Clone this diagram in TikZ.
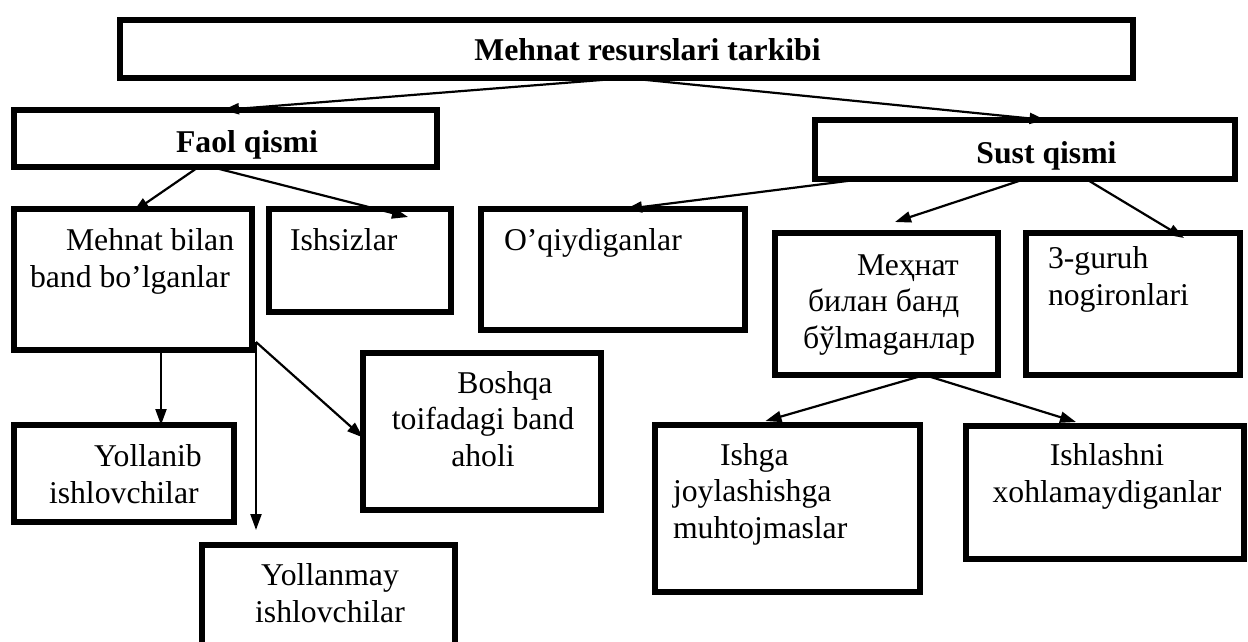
\documentclass[tikz,border=0pt]{standalone}
\usepackage{fontspec}
\setmainfont{Liberation Serif}
\usetikzlibrary{arrows.meta,calc}
\begin{document}
\begin{tikzpicture}[x=1pt,y=-1pt,
  box/.style={draw=black,line width=5.5pt,inner sep=0pt,outer sep=0pt,line join=miter,fill=none},
  txt/.style={inner sep=0pt,outer sep=0pt,font=\fontsize{31.7}{36.5}\selectfont},
  arr/.style={draw=black,line width=2.2pt,-{Triangle[length=16pt,width=11pt]}}]
\useasboundingbox (0,0) rectangle (1248,641);
\clip (0,0) rectangle (1248,641);
\fill[white] (0,0) rectangle (1248,641);
% boxes
\node[box,minimum width=1013pt,minimum height=58pt] (top) at (626.5,49) {};
\node[box,minimum width=423pt,minimum height=57pt] (faol) at (225.5,138.5) {};
\node[box,minimum width=420pt,minimum height=59pt] (sust) at (1025,149.5) {};
\node[box,minimum width=238pt,minimum height=141pt] (mb) at (133,279.5) {};
\node[box,minimum width=182pt,minimum height=103pt] (ish) at (360,260.5) {};
\node[box,minimum width=264pt,minimum height=121pt] (oqi) at (613,269.5) {};
\node[box,minimum width=223pt,minimum height=142pt] (mex) at (886.5,304) {};
\node[box,minimum width=214pt,minimum height=142pt] (gur) at (1133,304) {};
\node[box,minimum width=220pt,minimum height=97pt] (yol1) at (124,473.5) {};
\node[box,minimum width=238pt,minimum height=157pt] (bosh) at (482,431.5) {};
\node[box,minimum width=253pt,minimum height=135pt] (yol2) at (328.5,612.5) {};
\node[box,minimum width=265pt,minimum height=167pt] (ishga) at (787.5,508.5) {};
\node[box,minimum width=278pt,minimum height=133pt] (ishl) at (1105,492.5) {};
% texts (anchor = baseline of the last line)
\node[txt,anchor=base,font=\fontsize{31.7}{36.5}\selectfont\bfseries] (ttop) at (647.5,60) {Mehnat resurslari tarkibi};
\node[txt,anchor=base,font=\fontsize{31.7}{36.5}\selectfont\bfseries] (tfaol) at (247,152) {Faol qismi};
\node[txt,anchor=base,font=\fontsize{31.7}{36.5}\selectfont\bfseries] (tsust) at (1046.5,163) {Sust qismi};
\node[txt,anchor=base west,align=left] (tmb) at (30,287) {\hspace*{36pt}Mehnat bilan\\band bo’lganlar};
\node[txt,anchor=base west,align=left] (tish) at (290,250) {Ishsizlar};
\node[txt,anchor=base west,align=left] (toqi) at (504,250) {O’qiydiganlar};
\node[txt,anchor=base west,align=left] (tmex) at (803,348) {\hspace*{54pt}Меҳнат\\\hspace*{5pt}билан банд\\бўlmagaнлар};
\node[txt,anchor=base west,align=left] (tgur) at (1048,305) {3-guruh\\nogironlari};
\node[txt,anchor=base west,align=left] (tyol1) at (49,503) {\hspace*{45pt}Yollanib\\ishlovchilar};
\node[txt,anchor=base,align=center] (tbosh) at (483,466) {\hspace*{44pt}Boshqa\\toifadagi band\\aholi};
\node[txt,anchor=base,align=center] (tyol2) at (330,622) {Yollanmay\\ishlovchilar};
\node[txt,anchor=base west,align=left] (tishga) at (673,538) {\hspace*{47pt}Ishga\\joylashishga\\muhtojmaslar};
\node[txt,anchor=base,align=center] (tishl) at (1107,502) {Ishlashni\\xohlamaydiganlar};
% connectors
\draw[arr] (top.south) -- ($(faol.north)+(-2.5,0)$);
\draw[arr] (top.south) -- ($(sust.north)+(20.5,0)$);
\draw[arr] ($(faol.south)+(-27,0)$) -- ($(mb.north)+(0,3)$);
\draw[arr] ($(faol.south)+(-14,0)$) -- ($(ish.north)+(48,8)$);
\draw[arr] ($(sust.south)+(-162,0)$) -- ($(oqi.north)+(13,0)$);
\draw[arr] (sust.south) -- ($(mex.north)+(8.5,-11)$);
\draw[arr] ($(sust.south)+(61,0)$) -- ($(gur.north)+(51,5)$);
\draw[arr] ($(mb.south)+(28,0)$) -- ($(yol1.north)+(37,0)$);
\draw[arr] ($(mb.south east)+(4,-8)$) -- ($(yol2.north west)+(54,-15)$);
\draw[arr] ($(mb.south east)+(4,-8)$) -- ($(bosh.west)+(0,6)$);
\draw[arr] ($(mex.south)+(38,0)$) -- ($(ishga.north)+(-22,-4)$);
\draw[arr] ($(mex.south)+(38,0)$) -- ($(ishl.north)+(-29,-4)$);
\end{tikzpicture}
\end{document}
